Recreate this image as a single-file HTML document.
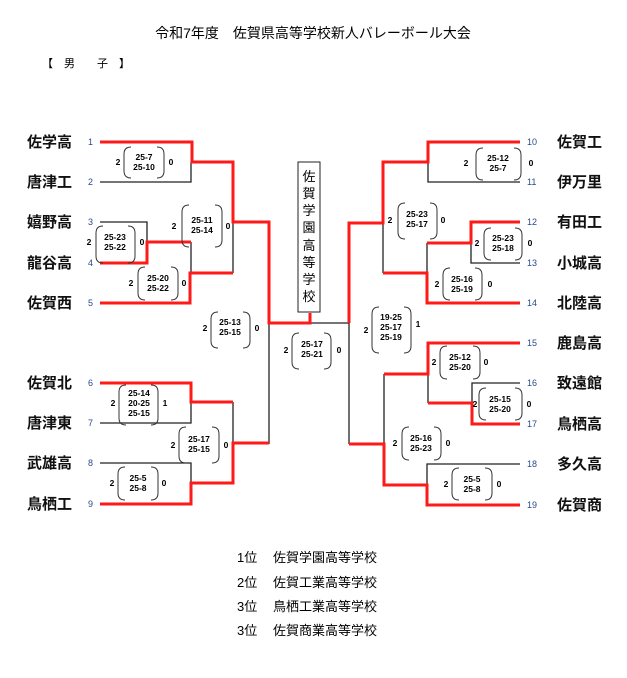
<!DOCTYPE html>
<html><head><meta charset="utf-8"><style>
html,body{margin:0;padding:0;background:#fff;}
svg{display:block;font-family:"Liberation Sans","Noto Sans CJK JP",sans-serif;}
.n{font-size:15px;font-weight:bold;fill:#111;}
.k{font-size:9px;fill:#2a4a8a;}
.s{font-size:8.5px;font-weight:bold;fill:#000;}
.r{fill:none;stroke:#ff1a1a;stroke-width:3;}
.b{fill:none;stroke:#222;stroke-width:1.3;}
.bx{fill:none;stroke:#333;stroke-width:1;}
</style></head><body>
<svg width="627" height="678" viewBox="0 0 627 678">
<text x="313" y="38" text-anchor="middle" style="font-size:14px">令和7年度　佐賀県高等学校新人バレーボール大会</text>
<text x="42" y="67" style="font-size:11px">【　男　　子　】</text>

<!-- left names -->
<g class="n">
<text x="27" y="147">佐学高</text><text x="27" y="187">唐津工</text><text x="27" y="227">嬉野高</text><text x="27" y="268">龍谷高</text><text x="27" y="308">佐賀西</text>
<text x="27" y="388">佐賀北</text><text x="27" y="428">唐津東</text><text x="27" y="468">武雄高</text><text x="27" y="509">鳥栖工</text>
<text x="557" y="147">佐賀工</text><text x="557" y="187">伊万里</text><text x="557" y="227">有田工</text><text x="557" y="268">小城高</text><text x="557" y="308">北陸高</text>
<text x="557" y="348">鹿島高</text><text x="557" y="388">致遠館</text><text x="557" y="429">鳥栖高</text><text x="557" y="469">多久高</text><text x="557" y="510">佐賀商</text>
</g>
<g class="k">
<text x="88" y="145">1</text><text x="88" y="185">2</text><text x="88" y="225">3</text><text x="88" y="266">4</text><text x="88" y="306">5</text>
<text x="88" y="386">6</text><text x="88" y="426">7</text><text x="88" y="466">8</text><text x="88" y="507">9</text>
<text x="527" y="145">10</text><text x="527" y="185">11</text><text x="527" y="225">12</text><text x="527" y="266">13</text><text x="527" y="306">14</text>
<text x="527" y="346">15</text><text x="527" y="386">16</text><text x="527" y="427">17</text><text x="527" y="467">18</text><text x="527" y="508">19</text>
</g>

<!-- black lines -->
<g class="b">
<path d="M100 182H191V162"/>
<path d="M100 222H147V242"/>
<path d="M191 242V273"/>
<path d="M233 222V273"/>
<path d="M269 323V444"/>
<path d="M100 423H191V402"/>
<path d="M233 402V443"/>
<path d="M100 463H191V483"/>
<path d="M310 323H349"/>
<path d="M520 182H428V162"/>
<path d="M383 223V273"/>
<path d="M520 263H471V243"/>
<path d="M427 243V273"/>
<path d="M349 323V444"/>
<path d="M384 374V444"/>
<path d="M428 374V403"/>
<path d="M520 383H472V403"/>
<path d="M520 464H427V485"/>
</g>
<!-- red lines -->
<g class="r">
<path d="M100 142H192V162H233V222H269V323H310V313"/>
<path d="M100 263H147V242H191"/>
<path d="M100 303H190V273H233"/>
<path d="M100 383H191V402H233"/>
<path d="M100 504H191V483H233V443H269"/>
<path d="M520 142H428V162H383V223H349V323"/>
<path d="M520 222H471V243H427"/>
<path d="M520 303H427V273H383"/>
<path d="M520 343H428V374H384"/>
<path d="M520 424H472V403H428"/>
<path d="M520 505H427V485H384V444H349"/>
</g>

<!-- champion box -->
<rect x="298" y="162" width="22" height="150" fill="#fff" stroke="#222" stroke-width="1"/>
<g style="font-size:13px" text-anchor="middle">
<text x="309" y="181">佐</text><text x="309" y="198">賀</text><text x="309" y="215">学</text><text x="309" y="232">園</text><text x="309" y="250">高</text><text x="309" y="267">等</text><text x="309" y="284">学</text><text x="309" y="301">校</text>
</g>

<!-- score boxes -->
<g class="s" text-anchor="middle">
<!-- helper: each box: bracket paths, winner/loser counts, scores -->
<g><path class="bx" d="M131 147Q124 147 124 154V171Q124 178 131 178M157 147Q164 147 164 154V171Q164 178 157 178"/><text x="118" y="165">2</text><text x="171" y="165">0</text><text x="144" y="160">25-7</text><text x="144" y="170">25-10</text></g>
<g><path class="bx" d="M103 226Q96 226 96 233V256Q96 263 103 263M128 226Q135 226 135 233V256Q135 263 128 263"/><text x="89" y="245">2</text><text x="142" y="245">0</text><text x="115" y="240">25-23</text><text x="115" y="250">25-22</text></g>
<g><path class="bx" d="M145 267Q138 267 138 274V293Q138 300 145 300M171 267Q178 267 178 274V293Q178 300 171 300"/><text x="131" y="286">2</text><text x="184" y="286">0</text><text x="158" y="281">25-20</text><text x="158" y="291">25-22</text></g>
<g><path class="bx" d="M189 205Q182 205 182 212V240Q182 247 189 247M215 205Q222 205 222 212V240Q222 247 215 247"/><text x="174" y="229">2</text><text x="228" y="229">0</text><text x="202" y="223">25-11</text><text x="202" y="233">25-14</text></g>
<g><path class="bx" d="M218 312Q211 312 211 319V341Q211 348 218 348M243 312Q250 312 250 319V341Q250 348 243 348"/><text x="205" y="331">2</text><text x="257" y="331">0</text><text x="230" y="325">25-13</text><text x="230" y="335">25-15</text></g>
<g><path class="bx" d="M299 333Q292 333 292 340V362Q292 369 299 369M324 333Q331 333 331 340V362Q331 369 324 369"/><text x="286" y="353">2</text><text x="339" y="353">0</text><text x="312" y="347">25-17</text><text x="312" y="357">25-21</text></g>
<g><path class="bx" d="M126 385Q119 385 119 392V418Q119 425 126 425M151 385Q158 385 158 392V418Q158 425 151 425"/><text x="113" y="406">2</text><text x="165" y="406">1</text><text x="139" y="396">25-14</text><text x="139" y="406">20-25</text><text x="139" y="416">25-15</text></g>
<g><path class="bx" d="M186 427Q179 427 179 434V456Q179 463 186 463M212 427Q219 427 219 434V456Q219 463 212 463"/><text x="173" y="448">2</text><text x="226" y="448">0</text><text x="199" y="442">25-17</text><text x="199" y="452">25-15</text></g>
<g><path class="bx" d="M125 467Q118 467 118 474V493Q118 500 125 500M151 467Q158 467 158 474V493Q158 500 151 500"/><text x="112" y="486">2</text><text x="164" y="486">0</text><text x="138" y="481">25-5</text><text x="138" y="491">25-8</text></g>

<g><path class="bx" d="M483 148Q476 148 476 155V173Q476 180 483 180M514 148Q521 148 521 155V173Q521 180 514 180"/><text x="466" y="166">2</text><text x="531" y="166">0</text><text x="498" y="161">25-12</text><text x="498" y="171">25-7</text></g>
<g><path class="bx" d="M491 228Q484 228 484 235V253Q484 260 491 260M515 228Q522 228 522 235V253Q522 260 515 260"/><text x="477" y="246">2</text><text x="530" y="246">0</text><text x="503" y="241">25-23</text><text x="503" y="251">25-18</text></g>
<g><path class="bx" d="M450 268Q443 268 443 275V293Q443 300 450 300M475 268Q482 268 482 275V293Q482 300 475 300"/><text x="437" y="287">2</text><text x="490" y="287">0</text><text x="462" y="282">25-16</text><text x="462" y="292">25-19</text></g>
<g><path class="bx" d="M405 203Q398 203 398 210V232Q398 239 405 239M430 203Q437 203 437 210V232Q437 239 430 239"/><text x="390" y="223">2</text><text x="443" y="223">0</text><text x="417" y="217">25-23</text><text x="417" y="227">25-17</text></g>
<g><path class="bx" d="M379 307Q372 307 372 314V346Q372 353 379 353M404 307Q411 307 411 314V346Q411 353 404 353"/><text x="366" y="333">2</text><text x="418" y="327">1</text><text x="391" y="320">19-25</text><text x="391" y="330">25-17</text><text x="391" y="340">25-19</text></g>
<g><path class="bx" d="M447 346Q440 346 440 353V372Q440 379 447 379M473 346Q480 346 480 353V372Q480 379 473 379"/><text x="434" y="365">2</text><text x="486" y="365">0</text><text x="460" y="360">25-12</text><text x="460" y="370">25-20</text></g>
<g><path class="bx" d="M486 388Q479 388 479 395V413Q479 420 486 420M515 388Q522 388 522 395V413Q522 420 515 420"/><text x="475" y="407">2</text><text x="529" y="407">0</text><text x="500" y="402">25-15</text><text x="500" y="412">25-20</text></g>
<g><path class="bx" d="M409 427Q402 427 402 434V453Q402 460 409 460M434 427Q441 427 441 434V453Q441 460 434 460"/><text x="395" y="446">2</text><text x="448" y="446">0</text><text x="421" y="441">25-16</text><text x="421" y="451">25-23</text></g>
<g><path class="bx" d="M459 468Q452 468 452 475V493Q452 500 459 500M485 468Q492 468 492 475V493Q492 500 485 500"/><text x="446" y="487">2</text><text x="499" y="487">0</text><text x="472" y="482">25-5</text><text x="472" y="492">25-8</text></g>
</g>

<g style="font-size:13px">
<text x="237" y="562">1位</text><text x="273" y="562">佐賀学園高等学校</text>
<text x="237" y="587">2位</text><text x="273" y="587">佐賀工業高等学校</text>
<text x="237" y="611">3位</text><text x="273" y="611">鳥栖工業高等学校</text>
<text x="237" y="635">3位</text><text x="273" y="635">佐賀商業高等学校</text>
</g>
</svg>
</body></html>
